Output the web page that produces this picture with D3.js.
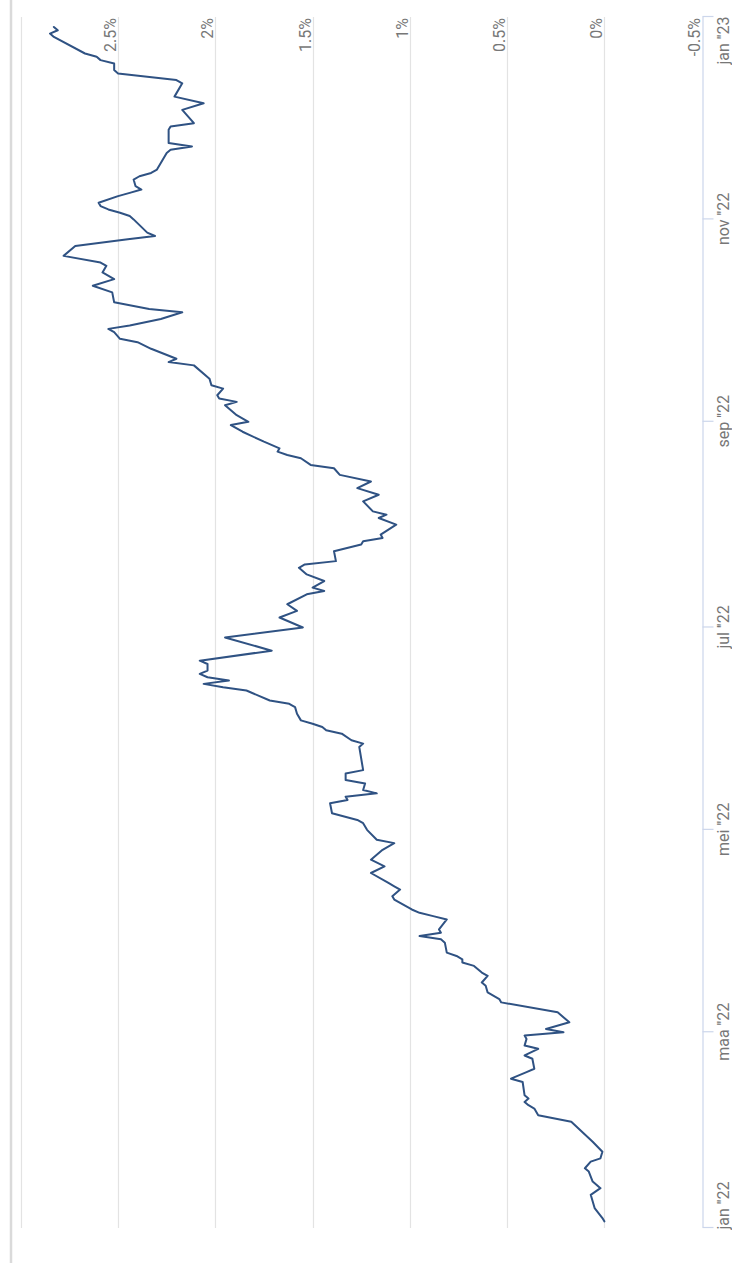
<!DOCTYPE html>
<html><head><meta charset="utf-8">
<script src="https://cdn.jsdelivr.net/npm/d3@7"></script>
<style>html,body{margin:0;padding:0;background:#fff;} svg{display:block;}</style>
</head><body>
<script>
const dates = ["2022-01-03","2022-01-04","2022-01-07","2022-01-11","2022-01-13","2022-01-15","2022-01-18","2022-01-19","2022-01-21","2022-01-22","2022-01-24","2022-01-27",
"2022-02-02","2022-02-04","2022-02-06","2022-02-07","2022-02-08","2022-02-09","2022-02-10","2022-02-14","2022-02-15","2022-02-17","2022-02-18","2022-02-21","2022-02-22","2022-02-24","2022-02-25","2022-02-27","2022-02-28",
"2022-03-01","2022-03-02","2022-03-04","2022-03-07","2022-03-10","2022-03-11","2022-03-13","2022-03-15","2022-03-16","2022-03-18","2022-03-19","2022-03-21","2022-03-22","2022-03-23","2022-03-24","2022-03-25","2022-03-28","2022-03-29","2022-03-30","2022-03-31",
"2022-04-01","2022-04-04","2022-04-05","2022-04-06","2022-04-07","2022-04-10","2022-04-11","2022-04-13","2022-04-14","2022-04-15","2022-04-18","2022-04-20","2022-04-22","2022-04-25","2022-04-27","2022-04-28",
"2022-05-01","2022-05-03","2022-05-04","2022-05-06","2022-05-09","2022-05-10","2022-05-11","2022-05-12","2022-05-13","2022-05-15","2022-05-16","2022-05-18","2022-05-19","2022-05-26","2022-05-27","2022-05-28","2022-05-30","2022-05-31",
"2022-06-01","2022-06-02","2022-06-03","2022-06-05","2022-06-07","2022-06-08","2022-06-09","2022-06-12","2022-06-13","2022-06-14","2022-06-15","2022-06-16","2022-06-17","2022-06-18","2022-06-20","2022-06-21","2022-06-24","2022-06-28",
"2022-07-01","2022-07-04","2022-07-06","2022-07-08","2022-07-11","2022-07-12","2022-07-13","2022-07-15","2022-07-17","2022-07-19","2022-07-20","2022-07-21","2022-07-24","2022-07-26","2022-07-27","2022-07-28","2022-07-29",
"2022-08-01","2022-08-03","2022-08-04","2022-08-05","2022-08-08","2022-08-10","2022-08-12","2022-08-14","2022-08-16","2022-08-18","2022-08-19","2022-08-21","2022-08-22","2022-08-23","2022-08-24","2022-08-26","2022-08-29","2022-08-31",
"2022-09-01","2022-09-03","2022-09-06","2022-09-07","2022-09-08","2022-09-09","2022-09-11","2022-09-12","2022-09-14","2022-09-18","2022-09-19","2022-09-20","2022-09-23","2022-09-25","2022-09-26","2022-09-28","2022-09-29","2022-09-30",
"2022-10-02","2022-10-04","2022-10-05","2022-10-07","2022-10-10","2022-10-12","2022-10-14","2022-10-16","2022-10-18","2022-10-19","2022-10-21","2022-10-24","2022-10-26","2022-10-27","2022-10-28",
"2022-11-01","2022-11-02","2022-11-03","2022-11-04","2022-11-05","2022-11-06","2022-11-08","2022-11-09","2022-11-10","2022-11-11","2022-11-13","2022-11-14","2022-11-15","2022-11-16","2022-11-21","2022-11-22","2022-11-23","2022-11-24","2022-11-28","2022-11-29","2022-11-30",
"2022-12-04","2022-12-06","2022-12-08","2022-12-12","2022-12-13","2022-12-15","2022-12-16","2022-12-18","2022-12-19","2022-12-20","2022-12-21","2022-12-26","2022-12-27","2022-12-28","2022-12-29"];

const values = [0.00,0.01,0.05,0.07,0.02,0.06,0.08,0.10,0.07,0.02,0.01,0.06,
0.17,0.34,0.36,0.39,0.41,0.39,0.41,0.42,0.48,0.40,0.36,0.37,0.41,0.34,0.41,0.40,0.41,
0.21,0.30,0.18,0.24,0.53,0.54,0.60,0.61,0.63,0.60,0.63,0.67,0.73,0.73,0.76,0.81,0.82,0.84,0.95,0.84,
0.85,0.81,0.88,0.95,0.99,1.08,1.09,1.05,1.08,1.11,1.20,1.13,1.20,1.14,1.08,1.17,
1.22,1.24,1.27,1.40,1.41,1.32,1.33,1.17,1.24,1.23,1.33,1.33,1.24,1.26,1.24,1.30,1.35,1.43,
1.45,1.50,1.56,1.58,1.59,1.62,1.72,1.84,1.96,2.06,1.93,2.04,2.08,2.04,2.04,2.08,1.71,1.95,
1.55,1.67,1.58,1.63,1.53,1.44,1.50,1.44,1.53,1.57,1.54,1.38,1.39,1.25,1.24,1.14,1.15,
1.07,1.16,1.12,1.19,1.24,1.16,1.27,1.20,1.36,1.39,1.51,1.56,1.63,1.68,1.67,1.75,1.86,1.92,
1.83,1.89,1.95,1.89,1.98,1.99,1.96,2.02,2.03,2.11,2.24,2.20,2.33,2.40,2.49,2.52,2.55,2.44,
2.28,2.17,2.34,2.52,2.53,2.63,2.52,2.58,2.56,2.59,2.78,2.72,2.45,2.31,2.35,
2.42,2.44,2.49,2.55,2.59,2.60,2.50,2.44,2.38,2.41,2.42,2.39,2.33,2.30,2.25,2.23,2.12,2.24,2.24,2.23,2.11,
2.17,2.06,2.21,2.17,2.20,2.50,2.52,2.52,2.59,2.61,2.67,2.83,2.85,2.81,2.83];

const yTicks = [-0.5, 0, 0.5, 1, 1.5, 2, 2.5, 3];
const yTickLabels = ["-0.5%", "0%", "0.5%", "1%", "1.5%", "2%", "2.5%", ""];
const xTicks = ["2022-01-01","2022-03-01","2022-05-01","2022-07-01","2022-09-01","2022-11-01","2023-01-01"];
const xTickLabels = ["jan ''22","maa ''22","mei ''22","jul ''22","sep ''22","nov ''22","jan ''23"];
const xDomain = ["2022-01-01","2023-01-01"];
const yDomain = [-0.5, 3];

const W = 732, H = 1274;
const parse = d3.utcParse("%Y-%m-%d");
const data = dates.map((d, i) => ({date: parse(d), value: values[i]}));

const svg = d3.select("body").append("svg").attr("width", W).attr("height", H);
// card border
svg.append("line").attr("x1", 11).attr("x2", 11).attr("y1", 0).attr("y2", 1263)
  .attr("stroke", "#dadada").attr("stroke-width", 2.5);

// chart drawn unrotated (1274 wide x 732 tall) then turned -90deg
const g = svg.append("g").attr("transform", `translate(0,${H}) rotate(-90)`);
const x = d3.scaleUtc().domain(xDomain.map(parse)).range([46, 1257]);
const y = d3.scaleLinear().domain(yDomain).range([701.6, 20.8]);
const font = "Roboto, 'Noto Sans', sans-serif";

// gridlines
g.append("g").selectAll("line").data(yTicks.filter(v => v > yDomain[0])).join("line")
  .attr("x1", 46).attr("x2", 1257)
  .attr("y1", d => Math.round(y(d)) + 0.5).attr("y2", d => Math.round(y(d)) + 0.5)
  .attr("stroke", "#e3e3e3").attr("stroke-width", 1.2);

// y labels (right side, above gridlines)
g.append("g").selectAll("text").data(yTicks.map((v, i) => ({v, t: yTickLabels[i]}))).join("text")
  .attr("x", 1256).attr("y", d => Math.round(y(d.v)) - 2)
  .attr("text-anchor", "end").attr("font-family", font).attr("font-size", 16)
  .attr("fill", "#777").text(d => d.t);

// x axis
const xAxis = d3.axisBottom(x)
  .tickValues(xTicks.map(parse))
  .tickFormat((d, i) => xTickLabels[i])
  .tickSize(11).tickSizeOuter(0).tickPadding(4);
const ax = g.append("g").attr("transform", `translate(0,${Math.round(y(yDomain[0])) + 0.5})`).call(xAxis);
ax.select(".domain").attr("stroke", "#ccd6eb").attr("stroke-width", 1.2);
ax.selectAll(".tick line").attr("stroke", "#ccd6eb").attr("stroke-width", 1.2);
ax.selectAll(".tick text").attr("font-family", font).attr("font-size", 16).attr("fill", "#777");
const tt = ax.selectAll(".tick text").nodes();
d3.select(tt[0]).attr("text-anchor", "start").attr("dx", -2);
d3.select(tt[tt.length - 1]).attr("text-anchor", "end");

// series line
g.append("path").datum(data)
  .attr("fill", "none").attr("stroke", "#2f5283").attr("stroke-width", 2)
  .attr("stroke-linejoin", "round").attr("stroke-linecap", "round")
  .attr("d", d3.line().x(d => x(d.date)).y(d => y(d.value)));
</script>
</body></html>
